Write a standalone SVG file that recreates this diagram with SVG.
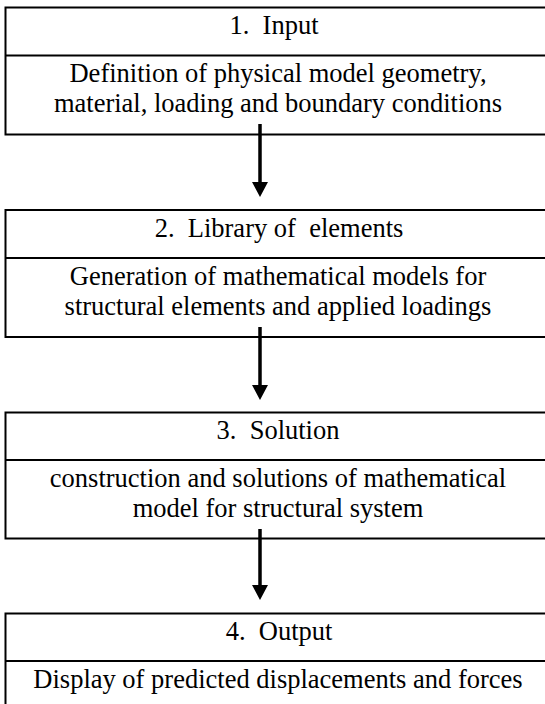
<svg xmlns="http://www.w3.org/2000/svg" width="545" height="704" viewBox="0 0 545 704">
  <style>
    .box { fill: #ffffff; stroke: #000000; stroke-width: 2; }
    .rule { stroke: #000000; stroke-width: 2; }
    .txt { font-family: "Liberation Serif", "Times New Roman", serif; font-size: 26.5px; fill: #000000; text-anchor: middle; white-space: pre; }
    .shaft { stroke: #000000; stroke-width: 3.5; fill: none; }
  </style>
  <defs>
    <!-- arrowhead drawn pointing along +x so orient="auto" turns it down the shaft -->
    <marker id="head" viewBox="0 0 15 16" refX="0" refY="8" markerWidth="15" markerHeight="16" markerUnits="userSpaceOnUse" orient="auto">
      <path d="M0,0 L15,8 L0,16 Z" fill="#000000"/>
    </marker>
  </defs>
  <rect width="545" height="704" fill="#ffffff"/>

  <!-- step 1 -->
  <g id="input">
    <rect class="box" x="5.5" y="7.5" width="560" height="127"/>
    <line class="rule" x1="5.5" y1="55.5" x2="565" y2="55.5"/>
    <text class="txt" x="274" y="34">1.  Input</text>
    <text class="txt" x="278" y="82">Definition of physical model geometry,</text>
    <text class="txt" x="278" y="112">material, loading and boundary conditions</text>
  </g>

  <!-- step 2 -->
  <g id="library">
    <rect class="box" x="5.5" y="210" width="560" height="127"/>
    <line class="rule" x1="5.5" y1="258" x2="565" y2="258"/>
    <text class="txt" x="279" y="237">2.  Library of  elements</text>
    <text class="txt" x="278" y="284.5">Generation of mathematical models for</text>
    <text class="txt" x="278" y="314.5">structural elements and applied loadings</text>
  </g>

  <!-- step 3 -->
  <g id="solution">
    <rect class="box" x="5.5" y="412.5" width="560" height="126"/>
    <line class="rule" x1="5.5" y1="460" x2="565" y2="460"/>
    <text class="txt" x="278" y="439">3.  Solution</text>
    <text class="txt" x="278" y="487">construction and solutions of mathematical</text>
    <text class="txt" x="278" y="517">model for structural system</text>
  </g>

  <!-- step 4 -->
  <g id="output">
    <rect class="box" x="5.5" y="613.5" width="560" height="110"/>
    <line class="rule" x1="5.5" y1="661" x2="565" y2="661"/>
    <text class="txt" x="279" y="640">4.  Output</text>
    <text class="txt" x="278" y="688">Display of predicted displacements and forces</text>
  </g>

  <!-- connectors -->
  <g id="connectors">
    <line class="shaft" x1="260" y1="124" x2="260" y2="182" marker-end="url(#head)"/>
    <line class="shaft" x1="260" y1="327" x2="260" y2="385" marker-end="url(#head)"/>
    <line class="shaft" x1="260" y1="529" x2="260" y2="585" marker-end="url(#head)"/>
  </g>
</svg>
